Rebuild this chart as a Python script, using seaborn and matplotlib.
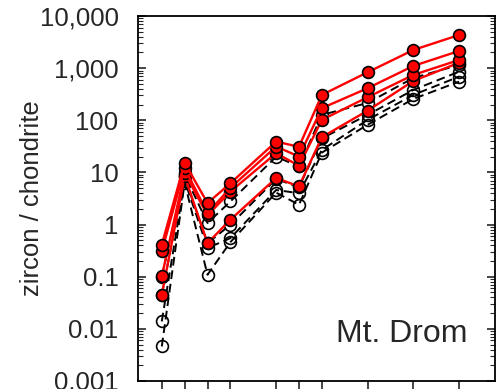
import matplotlib
matplotlib.use("Agg")
import matplotlib.pyplot as plt
import numpy as np
import pandas as pd
import seaborn as sns
from matplotlib.ticker import LogLocator, NullFormatter, FixedLocator, FixedFormatter

# ---- data ----
ree_order = ['La', 'Ce', 'Pr', 'Nd', 'Pm', 'Sm', 'Eu', 'Gd', 'Tb', 'Dy', 'Ho', 'Er', 'Tm', 'Yb', 'Lu']
elements = ['La', 'Ce', 'Pr', 'Nd', 'Sm', 'Eu', 'Gd', 'Dy', 'Er', 'Yb']

red_1 = [0.41, 15.3, 2.58, 6.2, 39.0, 31.0, 307, 834, 2232, 4325]
red_2 = [0.305, 12.1, 1.66, 5.07, 31.3, 20.2, 171, 412, 1102, 2136]
red_3 = [0.101, 9.8, 1.5, 4.3, 23.4, 13.4, 102, 277, 741, 1436]
red_4 = [0.045, 8.5, 0.44, 1.24, 7.8, 5.4, 47.5, 153, 568, 1274]

black_1 = [0.10, 9.0, 1.07, 2.77, 20.0, 13.0, 127, 215, 649, 1152]
black_2 = [0.045, 8.0, 0.44, 0.99, 7.5, 5.2, 45, 127, 382, 857]
black_3 = [0.0139, 7.0, 0.355, 0.55, 4.6, 4.0, 27, 102, 307, 688]
black_4 = [0.0046, 6.3, 0.109, 0.46, 4.1, 2.4, 24, 82, 257, 551]

ytick_values = [0.001, 0.01, 0.1, 1, 10, 100, 1000, 10000]
ytick_labels = ['0.001', '0.01', '0.1', '1', '10', '100', '1,000', '10,000']
y_label = 'zircon / chondrite'
location_label = 'Mt. Drom'

# ---- build table ----
xpos = [ree_order.index(e) + 1 for e in elements]
rows = []
for name, vals in [('black_4', black_4), ('black_3', black_3), ('black_2', black_2), ('black_1', black_1),
                   ('red_4', red_4), ('red_3', red_3), ('red_2', red_2), ('red_1', red_1)]:
    for e, x, v in zip(elements, xpos, vals):
        rows.append({'sample': name, 'element': e, 'pos': x, 'value': v})
df = pd.DataFrame(rows)

sns.set_style('ticks')
plt.rcParams['font.family'] = ['Liberation Sans', 'DejaVu Sans']

fig = plt.figure(figsize=(4.99, 3.89), dpi=100)
ax = fig.add_axes([138 / 499, 1 - 381 / 389, (495 - 138) / 499, (381 - 16) / 389])

for name in df['sample'].unique():
    sub = df[df['sample'] == name]
    if name.startswith('red'):
        sns.lineplot(data=sub, x='pos', y='value', ax=ax, color='#ff0000', linewidth=1.7,
                     marker='o', markersize=8.5, markerfacecolor='#ff0000',
                     markeredgecolor='black', markeredgewidth=1.2, zorder=3)
    else:
        sns.lineplot(data=sub, x='pos', y='value', ax=ax, color='black', linewidth=1.4,
                     linestyle=(0, (4.5, 2.5)),
                     marker='o', markersize=8.5, markerfacecolor='none',
                     markeredgecolor='black', markeredgewidth=1.2, zorder=2)

ax.set_yscale('log')
ax.set_ylim(0.001, 10000)
ax.set_xlim(-0.04, 15.57)

ax.yaxis.set_major_locator(FixedLocator(ytick_values))
ax.yaxis.set_major_formatter(FixedFormatter(ytick_labels))
ax.yaxis.set_minor_locator(LogLocator(base=10, subs=np.arange(2, 10), numticks=20))
ax.yaxis.set_minor_formatter(NullFormatter())

ax.set_xticks(xpos)
ax.set_xticklabels([])
ax.tick_params(axis='x', direction='out', length=7, width=1.2, bottom=True, top=False,
               labelbottom=False)
ax.tick_params(axis='y', which='major', direction='in', length=6, width=1.2,
               left=True, right=True, labelsize=18.5, pad=14)
ax.tick_params(axis='y', which='minor', direction='in', length=3.5, width=0.8,
               left=True, right=True)

for s in ax.spines.values():
    s.set_linewidth(1.3)
    s.set_color('black')

ax.set_xlabel('')
ax.set_ylabel(y_label, fontsize=18.5, va='center')
ax.yaxis.set_label_coords(-0.297, 0.5)

ax.text(0.922, 0.108, location_label, transform=ax.transAxes, ha='right', va='baseline',
        fontsize=23)

fig.savefig('out.png', dpi=100)
